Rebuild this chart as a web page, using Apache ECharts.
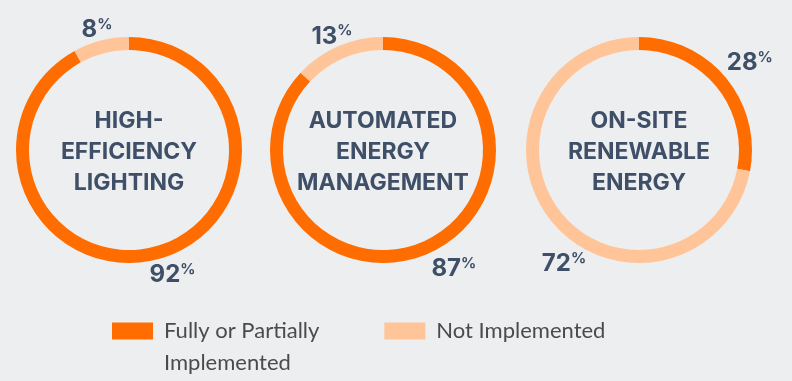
<!DOCTYPE html>
<html>
<head>
    <meta charset="utf-8">
    <title>Energy Measures</title>
    <script src="https://cdn.jsdelivr.net/npm/echarts@6/dist/echarts.min.js"></script>
    <style>
        html, body { margin: 0; padding: 0; background: #edeef0; }
        #chart { width: 792px; height: 381px; }
    </style>
</head>
<body>
    <div id="chart"></div>
    <script type="text/javascript">
        // data
        var measures = ['HIGH-\nEFFICIENCY\nLIGHTING', 'AUTOMATED\nENERGY\nMANAGEMENT', 'ON-SITE\nRENEWABLE\nENERGY'];
        var statusNames = ['Fully or Partially Implemented', 'Not Implemented'];
        var implemented = [92, 87, 28];
        var notImplemented = [8, 13, 72];

        // layout only
        var centers = [[129, 150], [383, 150], [639, 150]];
        // nudge of each percent label from its default outside spot: [implemented, not implemented]
        var labelNudge = [
            [[-16, 2], [20, 3]],
            [[-7, 2], [25, 3]],
            [[-15, -6], [50, 33]]
        ];
        var orange = '#ff6d00';
        var peach = '#ffc498';
        var navy = '#3e4f67';

        var chart = echarts.init(document.getElementById('chart'), null, { renderer: 'canvas' });

        var series = measures.map(function (m, i) {
            return {
                type: 'pie',
                center: centers[i],
                radius: [100, 113],
                startAngle: 90,
                clockwise: true,
                silent: true,
                avoidLabelOverlap: false,
                data: [
                    { name: statusNames[0], value: implemented[i], itemStyle: { color: orange } },
                    { name: statusNames[1], value: notImplemented[i], itemStyle: { color: peach } }
                ],
                label: {
                    position: 'outside',
                    formatter: function (p) { return '{v|' + p.value + '}{p|%}'; },
                    rich: {
                        v: { fontFamily: 'Inter', fontWeight: 'bold', fontSize: 24, color: navy, lineHeight: 26 },
                        p: { fontFamily: 'Inter', fontWeight: 'bold', fontSize: 15, color: navy, verticalAlign: 'top', lineHeight: 15 }
                    }
                },
                labelLine: { show: false, length: 14, length2: 0 },
                labelLayout: function (params) {
                    var n = labelNudge[i][params.dataIndex];
                    return { dx: n[0], dy: n[1] };
                }
            };
        });

        var graphics = measures.map(function (m, i) {
            return {
                type: 'text',
                x: centers[i][0],
                y: centers[i][1] + 2,
                silent: true,
                style: {
                    text: m,
                    align: 'center',
                    verticalAlign: 'middle',
                    fontFamily: 'Inter',
                    fontWeight: 'bold',
                    fontSize: 23,
                    lineHeight: 31,
                    fill: navy
                }
            };
        });

        chart.setOption({
            backgroundColor: '#edeef0',
            color: [orange, peach],
            legend: {
                data: statusNames,
                left: 112,
                top: 283,
                padding: 0,
                itemWidth: 41,
                itemHeight: 17,
                itemGap: 65,
                icon: 'rect',
                selectedMode: false,
                formatter: function (name) {
                    return name === statusNames[0] ? '\nFully or Partially\nImplemented' : name;
                },
                textStyle: {
                    fontFamily: 'Lato',
                    fontSize: 22,
                    lineHeight: 32,
                    color: '#4b4b4b',
                    padding: [0, 0, 0, 6]
                }
            },
            graphic: graphics,
            series: series
        });
    </script>
</body>
</html>
